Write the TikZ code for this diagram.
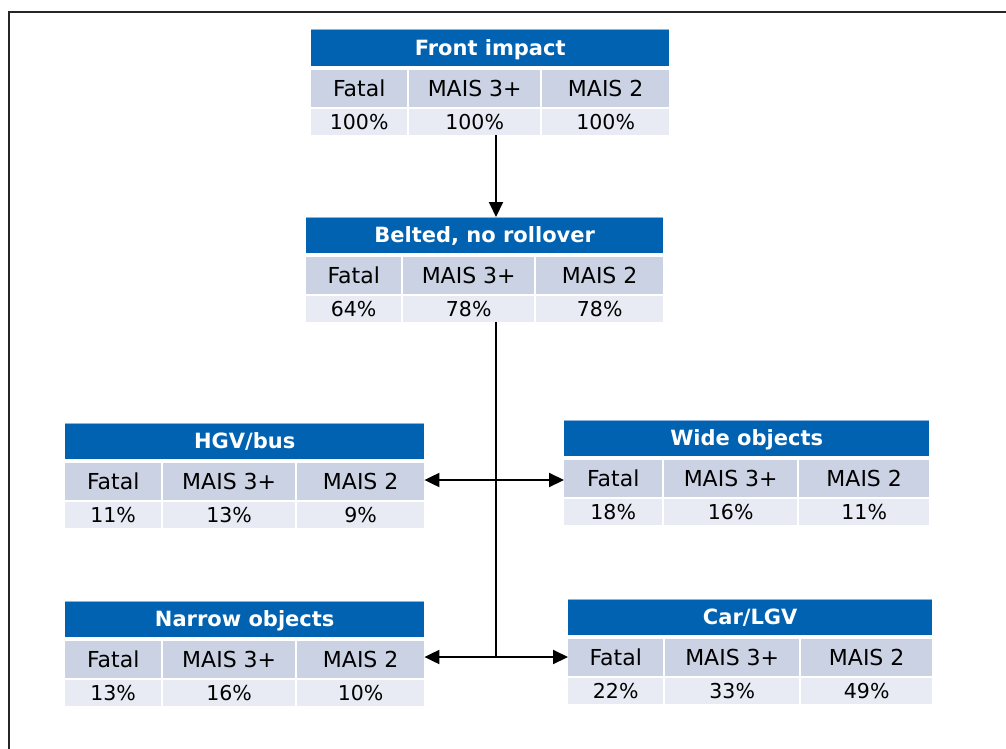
\documentclass[tikz,border=0pt]{standalone}
\usepackage{fontspec}
\setmainfont{DejaVu Sans}
\usetikzlibrary{arrows.meta}
\definecolor{hblue}{RGB}{0,98,176}
\definecolor{hline}{RGB}{140,180,222}
\definecolor{rowa}{RGB}{203,210,227}
\definecolor{rowb}{RGB}{232,235,244}
\def\splitvals#1/#2/#3\relax{\def\va{#1}\def\vb{#2}\def\vc{#3}}
\newcommand\mytable[8]{%
  \splitvals#8\relax
  \node[hdr, minimum width=#4pt+#5pt+#6pt+4pt] (#1) at (#2,#3) {#7};
  \draw[hedge] (#1.north west) -- (#1.north east);
  \node[ra, minimum width=#4pt] (#1-a1) at (#2,#3+40) {Fatal};
  \node[ra, minimum width=#5pt] (#1-b1) at (#2+#4+2,#3+40) {MAIS 3+};
  \node[ra, minimum width=#6pt] (#1-c1) at (#2+#4+#5+4,#3+40) {MAIS 2};
  \node[rb, minimum width=#4pt] (#1-a2) at (#2,#3+79) {\va};
  \node[rb, minimum width=#5pt] (#1-b2) at (#2+#4+2,#3+79) {\vb};
  \node[rb, minimum width=#6pt] (#1-c2) at (#2+#4+#5+4,#3+79) {\vc};
}
\begin{document}
\begin{tikzpicture}[x=1pt,y=-1pt,
  hdr/.style={fill=hblue, text=white, font=\fontsize{21}{24}\selectfont\bfseries, anchor=north west, inner sep=0pt, minimum height=36pt, text height=15.2pt, text depth=0pt},
  hedge/.style={hline, line width=1pt},
  ra/.style={fill=rowa, text=black, font=\fontsize{22}{26}\selectfont, anchor=north west, inner sep=0pt, minimum height=37pt, text height=16pt, text depth=0pt},
  rb/.style={fill=rowb, text=black, font=\fontsize{20.5}{24}\selectfont, anchor=north west, inner sep=0pt, minimum height=26pt, text height=15pt, text depth=0pt},
  conn/.style={line width=2pt, black},
  arr/.style={conn, -{Triangle[length=15pt,width=14pt]}},
  darr/.style={conn, {Triangle[length=15pt,width=14pt]}-{Triangle[length=15pt,width=14pt]}},
  frame/.style={line width=2pt, black!85}
]
\useasboundingbox (0,0) rectangle (1006,749);
\draw[frame] (8.5,749) -- (8.5,12.5) -- (1006,12.5);

\mytable{front}{311}{30}{96}{131}{127}{Front impact}{100\%/100\%/100\%}
\mytable{belted}{306}{217}{95}{131}{127}{Belted, no rollover}{64\%/78\%/78\%}
\mytable{hgv}{65}{423}{96}{132}{127}{HGV/bus}{11\%/13\%/9\%}
\mytable{wide}{564}{420}{98}{133}{130}{Wide objects}{18\%/16\%/11\%}
\mytable{narrow}{65}{601}{96}{132}{127}{Narrow objects}{13\%/16\%/10\%}
\mytable{car}{568}{599}{95}{134}{131}{Car/LGV}{22\%/33\%/49\%}

\coordinate (spine) at (496,0);
\coordinate (j1) at (496,480);
\coordinate (j2) at (496,657);
\draw[arr] (front-b2.south -| spine) -- (belted.north -| spine);
\draw[conn] (belted-b2.south -| spine) -- (j2);
\draw[darr] (hgv-c1.east |- j1) -- (wide-a1.west |- j1);
\draw[darr] (narrow-c1.east |- j2) -- (car-a1.west |- j2);
\end{tikzpicture}
\end{document}
